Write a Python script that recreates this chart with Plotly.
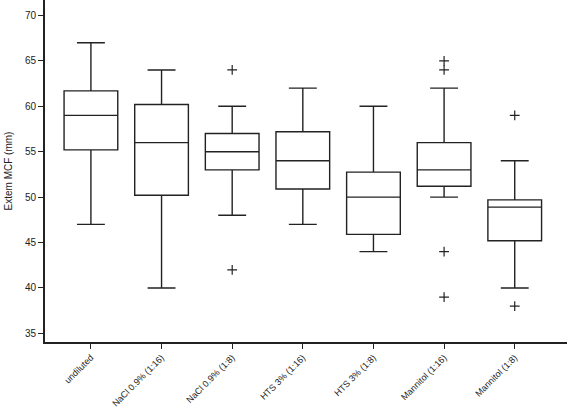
import plotly.graph_objects as go

categories = ["undiluted", "NaCl 0.9% (1:16)", "NaCl 0.9% (1:8)", "HTS 3% (1:16)",
              "HTS 3% (1:8)", "Mannitol (1:16)", "Mannitol (1:8)"]
lower_whisker = [47, 40, 48, 47, 44, 50, 40]
q1 = [55.2, 50.2, 53, 50.9, 45.9, 51.2, 45.2]
median = [59, 56, 55, 54, 50, 53, 48.9]
q3 = [61.7, 60.2, 57, 57.2, 52.75, 56, 49.7]
upper_whisker = [67, 64, 60, 62, 60, 62, 54]
outlier_groups = [[], [], [64, 42], [], [], [65, 64, 44, 39], [59, 38]]

positions = list(range(len(categories)))

fig = go.Figure()
fig.add_trace(go.Box(
    x=positions, q1=q1, median=median, q3=q3,
    lowerfence=lower_whisker, upperfence=upper_whisker,
    width=0.76, whiskerwidth=0.52,
    fillcolor="white", line=dict(color="#222222", width=1.4),
    boxpoints=False, showlegend=False, hoverinfo="skip",
))

ox, oy = [], []
for pos, outs in zip(positions, outlier_groups):
    for v in outs:
        ox.append(pos)
        oy.append(v)
fig.add_trace(go.Scatter(
    x=ox, y=oy, mode="markers", showlegend=False,
    marker=dict(symbol="cross-thin", size=7, line=dict(color="#222222", width=1.2)),
))

fig.update_layout(
    width=567, height=413,
    margin=dict(l=45, r=0, t=0, b=71),
    paper_bgcolor="white", plot_bgcolor="white",
    font=dict(family="Liberation Sans, Arial", color="#222222", size=11),
)
fig.update_xaxes(
    range=[-0.65, 6.74], tickmode="array", tickvals=positions, ticktext=categories,
    tickangle=-45, ticks="outside", ticklen=5, tickwidth=1.4, tickcolor="#222222",
    showline=True, linecolor="#222222", linewidth=1.6, showgrid=False, zeroline=False,
    tickfont=dict(size=9), automargin=False,
)
fig.update_yaxes(
    range=[34.05, 71.7], tickmode="array", tickvals=[35, 40, 45, 50, 55, 60, 65, 70],
    ticks="outside", ticklen=5, tickwidth=1.4, tickcolor="#222222",
    showline=True, linecolor="#222222", linewidth=1.6, showgrid=False, zeroline=False,
    title=dict(text="Extem MCF (mm)", font=dict(size=10), standoff=11),
    tickfont=dict(size=10), automargin=False,
)

fig.write_html("out.html", config={"displayModeBar": False},
               post_script="document.body.style.margin='0';")
